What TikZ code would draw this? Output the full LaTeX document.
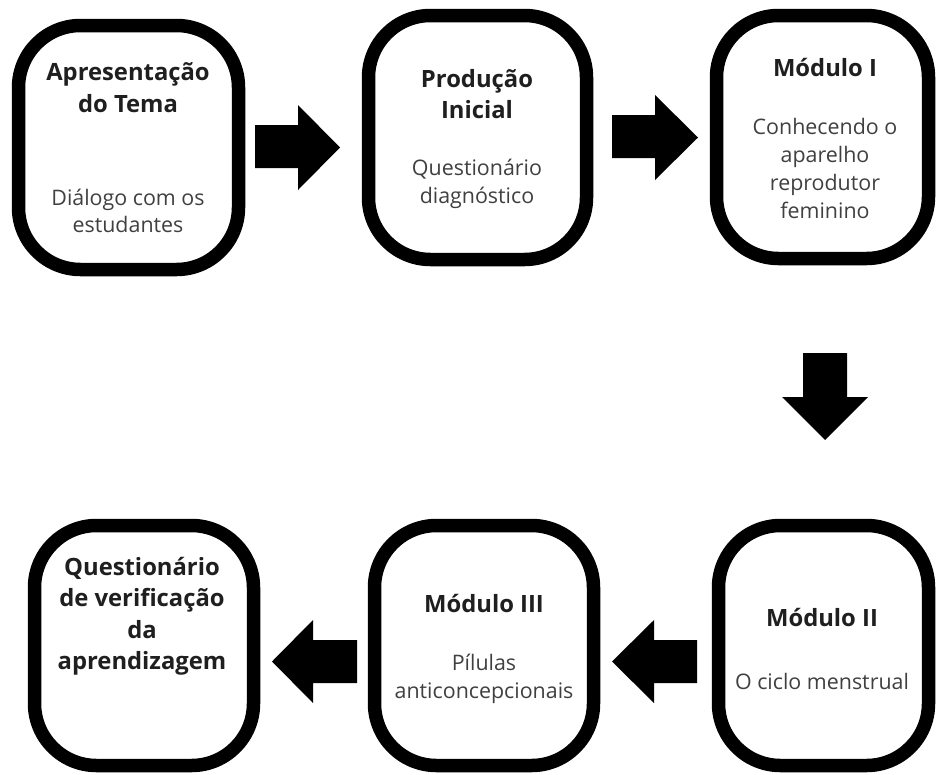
\documentclass[tikz,border=0pt]{standalone}
\usepackage{fontspec}
\setmainfont{Open Sans}
\definecolor{titlecol}{HTML}{1F1F1F}
\definecolor{bodycol}{HTML}{404040}
\begin{document}
\begin{tikzpicture}[x=1pt,y=-1pt,
  stagebox/.style={draw=black, line width=13.5pt, rounded corners=62pt, fill=white,
    minimum width=#1, inner sep=0pt},
  ttl/.style={text=titlecol, font=\fontsize{23.8}{31.5}\selectfont\bfseries, align=center, inner sep=0pt},
  bdy/.style={text=bodycol, font=\fontsize{21.4}{27.8}\selectfont, align=center, inner sep=0pt},
  blockarrow/.style={fill=black, draw=none}]
\useasboundingbox (0,0) rectangle (936,774);

% boxes (outer bounds minus half stroke)
\node[stagebox=220pt, minimum height=244pt] (b1) at (128.5,147.5) {};
\node[stagebox=218pt, minimum height=244pt] (b2) at (477.5,137.5) {};
\node[stagebox=212pt, minimum height=243pt] (b3) at (822.5,137) {};
\node[stagebox=219pt, minimum height=240pt] (bq) at (144,645.5) {};
\node[stagebox=219pt, minimum height=240pt] (b5) at (484,645.5) {};
\node[stagebox=210pt, minimum height=240pt] (b4) at (823.5,645.5) {};

% texts
\node[ttl] (t1) at (128,87.5) {Apresentação\\do Tema};
\node[bdy] (d1) at (128,211) {Diálogo com os\\estudantes};
\node[ttl] (t2) at (477,94) {Produção\\Inicial};
\node[bdy] (d2) at (477,184) {Questionário\\diagnóstico};
\node[ttl] (t3) at (825,67) {Módulo I};
\node[bdy] (d3) at (825,168.5) {Conhecendo o\\aparelho\\reprodutor\\feminino};
\node[ttl] (tq) at (142,616) {Questionário\\de verificação\\da\\aprendizagem};
\node[ttl] (t5) at (484,603) {Módulo III};
\node[bdy] (d5) at (484,679) {Pílulas\\anticoncepcionais};
\node[ttl] (t4) at (822,617) {Módulo II};
\node[bdy] (d4) at (822,681) {O ciclo menstrual};

% block arrows
\fill[blockarrow] (255,125) -- (298,125) -- (298,105) -- (340,147.5) -- (298,190) -- (298,168) -- (255,168) -- cycle;
\fill[blockarrow] (612,115) -- (655,115) -- (655,95) -- (698,137.5) -- (655,180) -- (655,158) -- (612,158) -- cycle;
\fill[blockarrow] (803,353) -- (847,353) -- (847,397) -- (868,397) -- (825,440) -- (782,397) -- (803,397) -- cycle;
\fill[blockarrow] (697,640) -- (654,640) -- (654,620) -- (612,661.5) -- (654,703) -- (654,683) -- (697,683) -- cycle;
\fill[blockarrow] (357,640) -- (313,640) -- (313,620) -- (272,661.5) -- (313,703) -- (313,683) -- (357,683) -- cycle;
\end{tikzpicture}
\end{document}
